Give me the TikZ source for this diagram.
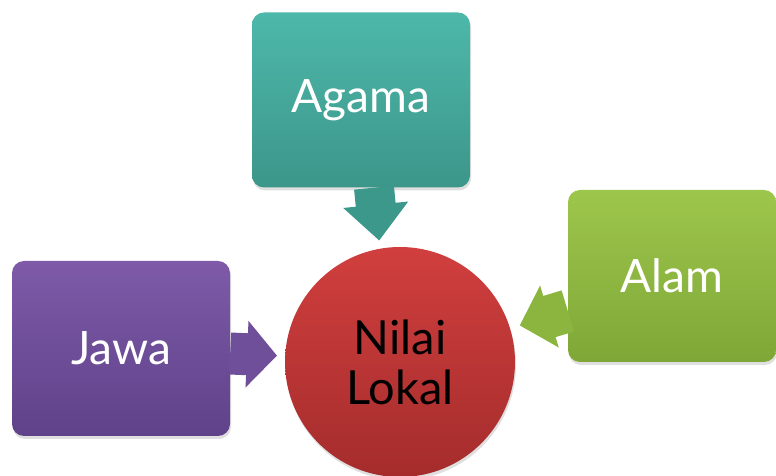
\documentclass[tikz,border=0pt]{standalone}
\usepackage{fontspec}
\setmainfont{Lato}
\usetikzlibrary{arrows.meta,shadows}

\definecolor{agamatop}{HTML}{4DB8AA}
\definecolor{agamabot}{HTML}{3C968A}
\definecolor{jawatop}{HTML}{7E5AA8}
\definecolor{jawabot}{HTML}{5F4289}
\definecolor{alamtop}{HTML}{9DC64C}
\definecolor{alambot}{HTML}{7FA737}
\definecolor{niltop}{HTML}{D03F3E}
\definecolor{nilbot}{HTML}{A52C2C}

\tikzstyle{card}=[rectangle, rounded corners=12pt, minimum width=218pt, minimum height=175pt, text=white, font=\fontsize{46}{50}\selectfont, drop shadow={opacity=0.25, shadow xshift=1pt, shadow yshift=-3pt}]
\tikzstyle{hub}=[circle, minimum size=230pt, inner sep=0pt, align=center, top color=niltop, bottom color=nilbot, font=\fontsize{47}{50}\selectfont, drop shadow={opacity=0.25, shadow xshift=1pt, shadow yshift=-3pt}]
\tikzstyle{fat}=[line width=42pt, -{Triangle[length=30pt, width=65pt]}]

\begin{document}
\begin{tikzpicture}[x=1pt, y=1pt]
  \useasboundingbox (0,0) rectangle (776,476);

  % Nodes
  \node (agama) [card, top color=agamatop, bottom color=agamabot] at (361,376) {Agama};
  \node (jawa) [card, top color=jawatop, bottom color=jawabot] at (121,127.5) {Jawa};
  \node (alam) [card, minimum width=208pt, minimum height=172pt, top color=alamtop, bottom color=alambot] at (672,200) {Alam};
  \node (nilai) [hub] at (400,114) {Nilai\\Lokal};

  % Arrows
  \draw [fat, draw=agamabot!95!agamatop, line width=40pt, -{Triangle[length=36pt, width=63pt]}, shorten >=8pt] ([xshift=13pt]agama.south) -- (nilai.100);
  \draw [fat, draw=jawatop!55!jawabot, shorten >=8pt] ([yshift=-5pt]jawa.east) -- (nilai.177);
  \draw [fat, draw=alamtop!45!alambot, line width=43pt, -{Triangle[length=31pt, width=63pt]}, shorten >=10pt] ([yshift=-35pt]alam.west) -- (nilai.17);
\end{tikzpicture}
\end{document}
